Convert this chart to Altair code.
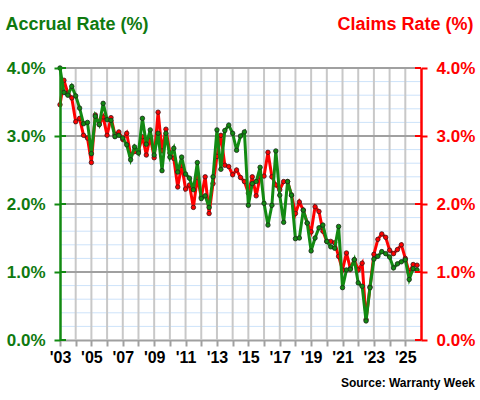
import altair as alt
import pandas as pd

# Quarterly warranty rates (% of product sales), 2003 Q1 onward
quarters = [2003 + i * 0.25 for i in range(92)]

accrual = [
    4.00, 3.64, 3.60, 3.73, 3.59, 3.41, 3.18, 3.20, 2.74, 3.29,
    3.17, 3.48, 3.24, 3.23, 2.99, 3.01, 2.97, 2.87, 2.65, 2.84,
    2.75, 3.26, 2.88, 3.09, 2.72, 3.04, 2.49, 3.04, 2.69, 2.82,
    2.47, 2.69, 2.44, 2.38, 2.21, 2.61, 2.08, 2.12, 1.95, 2.40,
    3.09, 2.51, 3.08, 3.16, 3.04, 2.79, 3.00, 3.06, 1.98, 2.30,
    2.33, 2.54, 2.01, 1.69, 1.98, 2.78, 2.13, 1.73, 2.33, 2.13,
    1.49, 1.50, 1.91, 1.72, 1.31, 1.50, 1.65, 1.69, 1.45, 1.37,
    1.35, 1.67, 0.77, 1.03, 1.04, 1.18, 0.84, 0.79, 0.28, 0.77,
    1.19, 1.23, 1.30, 1.27, 1.22, 1.06, 1.12, 1.15, 1.18, 0.89,
    1.05, 1.03,
]

claims = [
    3.46, 3.82, 3.63, 3.56, 3.21, 3.26, 3.01, 2.97, 2.61, 3.31,
    3.17, 3.28, 3.01, 3.27, 3.02, 3.06, 2.95, 3.04, 2.72, 2.77,
    2.78, 2.99, 2.72, 2.99, 2.68, 3.35, 2.78, 3.10, 2.75, 2.67,
    2.25, 2.57, 2.22, 2.28, 1.95, 2.39, 2.10, 2.40, 1.86, 2.30,
    2.70, 3.01, 2.57, 2.55, 2.43, 2.50, 2.39, 2.33, 2.16, 2.40,
    2.12, 2.40, 2.41, 2.76, 2.40, 2.28, 2.21, 2.33, 2.33, 2.13,
    1.86, 2.03, 1.91, 1.72, 1.59, 1.96, 1.89, 1.60, 1.45, 1.45,
    1.43, 1.23, 1.03, 1.28, 1.05, 1.18, 1.03, 1.13, 0.30, 0.78,
    1.26, 1.48, 1.56, 1.51, 1.32, 1.27, 1.33, 1.40, 1.20, 0.99,
    1.11, 1.10,
]

years = list(range(2003, 2026))
axis_levels = [0, 1, 2, 3, 4]
major_levels = [1, 2, 3, 4]
minor_levels = [round(0.2 * k, 1) for k in range(1, 20) if k % 5 != 0]

GREEN = "#128a12"
TEXT_GREEN = "#0f7a0f"
RED = "#ff0000"
GRID_MAJOR = "#a0a0a0"
GRID_YEAR = "#c8c8c8"
GRID_MINOR = "#cde3fa"
FONT = "Liberation Sans"

W, H = 361, 272

df = pd.DataFrame({"t": quarters, "accrual": accrual, "claims": claims})

x_scale = alt.Scale(domain=[2003, 2026], nice=False, zero=False)
y_scale = alt.Scale(domain=[0, 4], nice=False, zero=True)

x_axis = alt.Axis(
    values=years,
    labelExpr='datum.value % 2 == 1 ? "\'" + format(datum.value % 100, "02d") : ""',
    grid=False,
    domainColor=GRID_MAJOR, domainWidth=2,
    tickColor=GRID_MAJOR, tickWidth=2, tickSize=6,
    labelFont=FONT, labelFontSize=16, labelFontWeight="bold", labelColor="black",
    labelPadding=3, labelFlush=False, labelOverlap=False,
    title=None,
)
X = alt.X("t:Q", scale=x_scale, axis=x_axis)

pct_label = "format(datum.value, '.1f') + '%'"

left_axis = alt.Axis(
    orient="left", values=axis_levels, labelExpr=pct_label, grid=False, zindex=1,
    domainColor=GREEN, domainWidth=2.5, tickColor=GREEN, tickWidth=2, tickSize=6,
    labelColor=TEXT_GREEN, labelFont=FONT, labelFontSize=17, labelFontWeight="bold",
    labelPadding=9, labelFlush=False,
    title="Accrual Rate (%)", titleAngle=0, titleAlign="left", titleBaseline="alphabetic",
    titleX=-55, titleY=-39, titleColor=TEXT_GREEN, titleFont=FONT,
    titleFontSize=18, titleFontWeight="bold",
)

right_axis = alt.Axis(
    orient="right", values=axis_levels, labelExpr=pct_label, grid=False, zindex=1,
    domainColor=RED, domainWidth=2.5, tickColor=RED, tickWidth=2, tickSize=6,
    labelColor=RED, labelFont=FONT, labelFontSize=17, labelFontWeight="bold",
    labelPadding=9, labelFlush=False,
    title="Claims Rate (%)", titleAngle=0, titleAlign="right", titleBaseline="alphabetic",
    titleX=52, titleY=-39, titleColor=RED, titleFont=FONT,
    titleFontSize=18, titleFontWeight="bold",
)

# background grid: light blue minor lines, grey year lines, grey whole-percent lines
minor_grid = alt.Chart(pd.DataFrame({"v": minor_levels})).mark_rule(
    color=GRID_MINOR, strokeWidth=1
).encode(y=alt.Y("v:Q", scale=y_scale, axis=None))

year_grid = alt.Chart(pd.DataFrame({"t": years[1:]})).mark_rule(
    color=GRID_YEAR, strokeWidth=2
).encode(x=X)

major_grid = alt.Chart(pd.DataFrame({"v": major_levels})).mark_rule(
    color=GRID_MAJOR, strokeWidth=2
).encode(y=alt.Y("v:Q", scale=y_scale, axis=None))

# claims series (drawn beneath accruals)
claims_line = alt.Chart(df).mark_line(color=RED, strokeWidth=3).encode(
    x=X, y=alt.Y("claims:Q", scale=y_scale, axis=right_axis)
)
claims_pts = alt.Chart(df).mark_circle(
    color=RED, stroke="#3a1a1a", strokeWidth=0.8, size=20, opacity=1
).encode(x=X, y=alt.Y("claims:Q", scale=y_scale, axis=None))

# accrual series
accrual_line = alt.Chart(df).mark_line(color=GREEN, strokeWidth=3).encode(
    x=X, y=alt.Y("accrual:Q", scale=y_scale, axis=left_axis)
)
accrual_pts = alt.Chart(df).mark_circle(
    color=GREEN, stroke="#1a2a1a", strokeWidth=0.8, size=20, opacity=1
).encode(x=X, y=alt.Y("accrual:Q", scale=y_scale, axis=None))

# inner halves of the cross-shaped axis ticks
ticks_df = pd.DataFrame({"v": axis_levels})
left_inner = alt.Chart(ticks_df).mark_rule(color=GREEN, strokeWidth=2).encode(
    y=alt.Y("v:Q", scale=y_scale, axis=None), x=alt.value(0), x2=alt.value(6)
)
right_inner = alt.Chart(ticks_df).mark_rule(color=RED, strokeWidth=2).encode(
    y=alt.Y("v:Q", scale=y_scale, axis=None), x=alt.value(W - 6), x2=alt.value(W)
)

source = alt.Chart(pd.DataFrame({"s": ["Source: Warranty Week"]})).mark_text(
    align="right", baseline="alphabetic", font=FONT, fontSize=12,
    fontWeight="bold", color="black"
).encode(text="s:N", x=alt.value(W + 54), y=alt.value(H + 47))

chart = (
    alt.layer(
        minor_grid, year_grid, major_grid,
        claims_line, claims_pts, accrual_line, accrual_pts,
        left_inner, right_inner, source,
    )
    .resolve_scale(y="independent")
    .properties(
        width=W,
        height=H,
        padding={"left": 60, "top": 68, "right": 59, "bottom": 60},
        autosize=alt.AutoSizeParams(type="none"),
        background="white",
    )
    .configure_view(stroke=None)
)

chart.save("out.html", embed_options={"renderer": "svg", "actions": False})
